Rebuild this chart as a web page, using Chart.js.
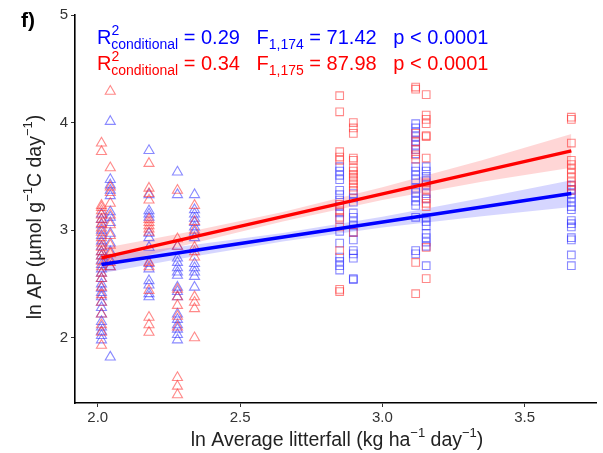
<!DOCTYPE html>
<html lang="en">
  <head>
    <meta charset="UTF-8" />
    <title>ln AP vs ln Average litterfall</title>
    <style>
      html, body { margin: 0; padding: 0; background: #fff; }
      #wrap { width: 603px; height: 453px; }
    </style>
  </head>
  <body>
    <div id="wrap"><canvas id="myChart" width="603" height="453"></canvas></div>

    <script src="https://cdn.jsdelivr.net/npm/chart.js@4.4.1/dist/chart.umd.min.js"></script>
    <script>
      // x position of each column of points
      var triX = [2.013, 2.044, 2.18, 2.28, 2.34];
      var sqX = [2.85, 2.898, 3.117, 3.154, 3.664];

      // red series, triangles (one list per column)
      var redTri = [
        [3.81, 3.73, 3.23, 3.21, 3.18, 3.14, 3.1, 3.06, 3.02, 2.98, 2.93, 2.88, 2.84, 2.8, 2.76, 2.71, 2.66, 2.6, 2.55, 2.47, 2.4, 2.33, 2.22, 2.12, 2.05, 1.93],
        [4.29, 3.58, 3.4, 3.35, 3.25, 3.14, 3.05, 2.95, 2.86, 2.78, 2.7, 2.66],
        [3.62, 3.39, 3.34, 3.28, 3.1, 3.07, 3.04, 3.01, 2.98, 2.7, 2.66, 2.44, 2.19, 2.12, 2.05],
        [3.37, 2.92, 2.85, 2.45, 2.38, 2.3, 2.2, 2.1, 1.63, 1.55, 1.47],
        [3.23, 3.08, 3.0, 2.84, 2.8, 2.75, 2.38, 2.33, 2.27, 2.0]
      ];
      // blue series, triangles
      var blueTri = [
        [3.15, 3.1, 3.05, 3.0, 2.95, 2.9, 2.85, 2.8, 2.76, 2.72, 2.68, 2.64, 2.6, 2.55, 2.5, 2.46, 2.42, 2.38, 2.33, 2.28, 2.22, 2.15, 2.1, 2.06, 2.02, 1.98],
        [4.01, 3.47, 3.42, 3.37, 3.32, 3.17, 3.12, 3.07, 2.97, 2.88, 2.8, 2.72, 2.66, 1.82],
        [3.74, 3.33, 3.18, 3.15, 3.12, 2.97, 2.93, 2.84, 2.69, 2.64, 2.53, 2.49, 2.41, 2.38],
        [3.54, 3.33, 2.85, 2.74, 2.7, 2.65, 2.61, 2.58, 2.47, 2.43, 2.38, 2.22, 2.17, 2.12, 2.08, 2.03, 1.98],
        [3.33, 3.19, 3.15, 3.11, 3.07, 3.03, 2.98, 2.93, 2.69, 2.65, 2.61, 2.57, 2.47]
      ];
      // red series, squares
      var redSq = [
        [4.25, 4.1, 3.73, 3.68, 3.65, 3.24, 3.18, 3.12, 3.03, 2.81, 2.45, 2.43],
        [4.0, 3.95, 3.9, 3.67, 3.65, 3.58, 3.55, 3.52, 3.49, 3.46, 3.43, 3.4, 3.37, 2.98],
        [4.33, 4.31, 3.9, 3.82, 3.75, 3.7, 3.66, 2.7, 2.41],
        [4.26, 4.07, 4.03, 3.99, 3.88, 3.87, 3.67, 3.44, 3.38, 3.3, 3.25, 3.22, 2.84, 2.55],
        [4.05, 4.03, 3.81, 3.65, 3.61, 3.57, 3.53, 3.49, 3.45, 3.41, 3.37]
      ];
      // blue series, squares
      var blueSq = [
        [3.59, 3.55, 3.51, 3.47, 3.37, 3.33, 3.28, 3.22, 3.16, 3.1, 2.99, 2.88, 2.75, 2.71, 2.67, 2.63],
        [3.34, 3.3, 3.26, 3.16, 3.12, 3.08, 3.04, 2.98, 2.91, 2.81, 2.78, 2.74, 2.55, 2.54],
        [3.99, 3.95, 3.91, 3.87, 3.83, 3.79, 3.75, 3.71, 3.59, 3.55, 3.51, 3.47, 3.39, 3.35, 3.31, 3.27, 3.23, 3.12, 2.81, 2.78],
        [3.59, 3.55, 3.5, 3.46, 3.42, 3.34, 3.29, 3.12, 3.08, 3.04, 2.97, 2.93, 2.89, 2.85, 2.67],
        [3.42, 3.38, 3.34, 3.3, 3.26, 3.22, 3.19, 3.09, 3.06, 3.03, 2.93, 2.91, 2.77, 2.67]
      ];

      // fitted lines and confidence bands
      var fitX = [2.013, 3.664];
      var redFit = [2.742, 3.738];
      var blueFit = [2.681, 3.341];
      var bandX = [2.013, 2.3, 2.65, 3.0, 3.35, 3.664];
      var redUpper = [2.83, 2.975, 3.17, 3.4, 3.65, 3.895];
      var redLower = [2.65, 2.855, 3.08, 3.28, 3.45, 3.58];
      var blueUpper = [2.76, 2.85, 2.975, 3.125, 3.3, 3.465];
      var blueLower = [2.6, 2.74, 2.895, 3.025, 3.13, 3.215];

      var xTickVals = [2.0, 2.5, 3.0, 3.5];
      var yTickVals = [2, 3, 4, 5];

      var FONT = "'Liberation Sans', Arial, sans-serif";
      var RED = "#ff0000";
      var BLUE = "#0000ff";

      function columns(xs, groups) {
        var out = [];
        for (var i = 0; i < groups.length; i++) {
          for (var j = 0; j < groups[i].length; j++) {
            out.push({ x: xs[i], y: groups[i][j] });
          }
        }
        return out;
      }
      function pairs(xs, ys) {
        return xs.map(function (x, i) { return { x: x, y: ys[i] }; });
      }

      function scatterSet(data, style, color, r) {
        return {
          type: "scatter",
          data: data,
          pointStyle: style,
          pointRadius: r,
          pointBorderWidth: 1.1,
          pointBorderColor: color,
          pointBackgroundColor: "rgba(0,0,0,0)",
        };
      }
      function lineSet(data, color, width) {
        return {
          type: "line",
          data: data,
          borderColor: color,
          borderWidth: width,
          pointRadius: 0,
          fill: false,
        };
      }

      // draw text made of pieces, some raised or lowered
      function richWidth(ctx, parts) {
        var w = 0;
        parts.forEach(function (p) {
          ctx.font = p.size + "px " + FONT;
          w += ctx.measureText(p.t).width + (p.gap || 0);
        });
        return w;
      }
      function drawRich(ctx, x, y, parts) {
        parts.forEach(function (p) {
          ctx.font = p.size + "px " + FONT;
          ctx.fillText(p.t, x, y + (p.dy || 0));
          x += ctx.measureText(p.t).width + (p.gap || 0);
        });
        return x;
      }

      function statLine(r2, df, f) {
        return [
          { t: "R", size: 20 },
          { t: "2", size: 14, dy: -9, gap: -8 },
          { t: "conditional", size: 14, dy: 5 },
          { t: " = " + r2 + "   F", size: 20 },
          { t: df, size: 14, dy: 5 },
          { t: " = " + f + "   p < 0.0001", size: 20 },
        ];
      }

      var textPlugin = {
        id: "texts",
        afterDraw: function (chart) {
          var ctx = chart.ctx;
          var area = chart.chartArea;
          ctx.save();
          ctx.textBaseline = "alphabetic";
          ctx.textAlign = "left";

          ctx.fillStyle = "#000";
          ctx.font = "bold 21px " + FONT;
          ctx.fillText("f)", 21, 27);

          ctx.fillStyle = BLUE;
          drawRich(ctx, 97, 44, statLine("0.29", "1,174", "71.42"));
          ctx.fillStyle = RED;
          drawRich(ctx, 97, 70, statLine("0.34", "1,175", "87.98"));

          ctx.fillStyle = "#222";
          var xt = [
            { t: "ln Average litterfall (kg ha", size: 19.5 },
            { t: "\u22121", size: 13, dy: -9 },
            { t: " day", size: 19.5 },
            { t: "\u22121", size: 13, dy: -9 },
            { t: ")", size: 19.5 },
          ];
          var w = richWidth(ctx, xt);
          drawRich(ctx, 337 - w / 2, 446, xt);

          var yt = [
            { t: "ln AP (\u00b5mol g", size: 19.5 },
            { t: "\u22121", size: 13, dy: -9 },
            { t: "C day", size: 19.5 },
            { t: "\u22121", size: 13, dy: -9 },
            { t: ")", size: 19.5 },
          ];
          var wy = richWidth(ctx, yt);
          ctx.translate(41, 217);
          ctx.rotate(-Math.PI / 2);
          drawRich(ctx, -wy / 2, 0, yt);
          ctx.restore();
        },
      };

      var ctx = document.getElementById("myChart").getContext("2d");
      var myChart = new Chart(ctx, {
        type: "scatter",
        data: {
          datasets: [
            lineSet(pairs(fitX, redFit), RED, 3.4),
            lineSet(pairs(fitX, blueFit), BLUE, 3.4),
            scatterSet(columns(triX, redTri), "triangle", "rgba(255,40,40,0.55)", 5.8),
            scatterSet(columns(triX, blueTri), "triangle", "rgba(40,40,255,0.55)", 5.8),
            scatterSet(columns(sqX, redSq), "rect", "rgba(255,40,40,0.55)", 5.4),
            scatterSet(columns(sqX, blueSq), "rect", "rgba(40,40,255,0.55)", 5.4),
            Object.assign(lineSet(pairs(bandX, redUpper), "rgba(0,0,0,0)", 0), {
              fill: "+1",
              backgroundColor: "rgba(255,0,0,0.16)",
            }),
            lineSet(pairs(bandX, redLower), "rgba(0,0,0,0)", 0),
            Object.assign(lineSet(pairs(bandX, blueUpper), "rgba(0,0,0,0)", 0), {
              fill: "+1",
              backgroundColor: "rgba(0,0,255,0.16)",
            }),
            lineSet(pairs(bandX, blueLower), "rgba(0,0,0,0)", 0),
          ],
        },
        options: {
          responsive: false,
          animation: false,
          events: [],
          layout: { padding: { top: 15, right: 3, left: 0, bottom: 0 } },
          plugins: {
            legend: { display: false },
            tooltip: { enabled: false },
          },
          scales: {
            x: {
              type: "linear",
              min: 1.92,
              max: 3.751,
              afterBuildTicks: function (s) {
                s.ticks = xTickVals.map(function (v) { return { value: v }; });
              },
              afterFit: function (s) { s.height = 50; },
              ticks: {
                padding: 2,
                color: "#333",
                font: { family: FONT, size: 15 },
                callback: function (v) { return v.toFixed(1); },
              },
              grid: {
                drawOnChartArea: false,
                tickLength: 4,
                color: "#333",
                lineWidth: 1,
              },
              border: { display: true, color: "#000", width: 1.6 },
            },
            y: {
              type: "linear",
              min: 1.394,
              max: 5,
              afterBuildTicks: function (s) {
                s.ticks = yTickVals.map(function (v) { return { value: v }; });
              },
              afterFit: function (s) { s.width = 75; },
              ticks: {
                padding: 3,
                color: "#333",
                font: { family: FONT, size: 15 },
              },
              grid: {
                drawOnChartArea: false,
                tickLength: 4,
                color: "#333",
                lineWidth: 1,
              },
              border: { display: true, color: "#000", width: 1.6 },
            },
          },
        },
        plugins: [textPlugin],
      });
    </script>
  </body>
</html>
